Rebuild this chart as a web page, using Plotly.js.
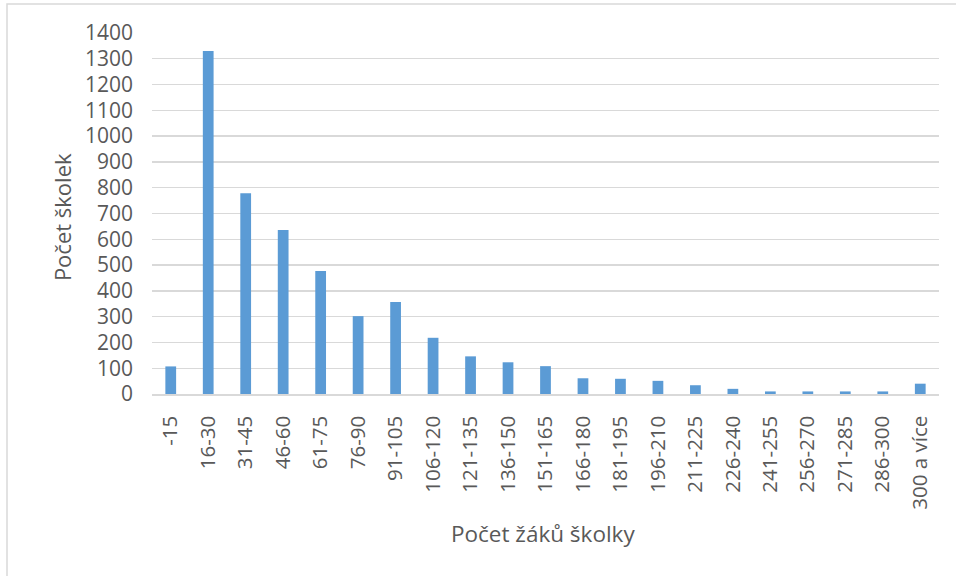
<!DOCTYPE html>
<html>
<head>
<meta charset="utf-8">
<script src="https://cdn.plot.ly/plotly-3.0.1.min.js"></script>
<style>html,body{margin:0;padding:0;background:#fff;}#chart{width:956px;height:576px;}</style>
</head>
<body>
<div id="chart"></div>
<script>
const categories = ["-15","16-30","31-45","46-60","61-75","76-90","91-105","106-120","121-135","136-150","151-165","166-180","181-195","196-210","211-225","226-240","241-255","256-270","271-285","286-300","300 a více"];
const values = [107,1330,779,636,477,302,357,218,146,123,108,61,59,51,34,20,10,10,10,10,40];
const yTicks = [0,100,200,300,400,500,600,700,800,900,1000,1100,1200,1300,1400];
const xTitle = "Počet žáků školky";
const yTitle = "Počet školek";

const fontFam = "Open Sans, Liberation Sans, sans-serif";
const gray = "#595959";

const trace = {
  type: "bar",
  x: categories,
  y: values,
  marker: {color: "#5B9BD5", line: {width: 0}},
  hoverinfo: "x+y"
};

const W = 956, H = 576, L = 152, R = 17, T = 33, B = 182;
const pw = W - L - R, ph = H - T - B;
const px = v => (v - L) / pw;
const py = v => (H - B - v) / ph;

const layout = {
  width: W, height: H,
  margin: {l: L, r: R, t: T, b: B, pad: 0},
  paper_bgcolor: "#fff",
  plot_bgcolor: "#fff",
  showlegend: false,
  bargap: 0.713,
  font: {family: fontFam, color: gray},
  xaxis: {
    type: "category",
    tickangle: -90,
    tickfont: {family: fontFam, size: 20.5, color: gray},
    ticks: "",
    ticklabelstandoff: 12,
    showline: true, linecolor: "#d9d9d9", linewidth: 1.5,
    showgrid: false,
    automargin: false,
    fixedrange: true
  },
  yaxis: {
    range: [0, 1400],
    tickvals: yTicks,
    tickfont: {family: fontFam, size: 21, color: gray},
    ticks: "",
    ticklabelstandoff: 18,
    showgrid: true, gridcolor: "#d9d9d9", gridwidth: 1.3,
    zeroline: false,
    showline: false,
    automargin: false,
    fixedrange: true
  },
  annotations: [
    {text: xTitle, xref: "paper", yref: "paper", x: 0.497, y: 0, xanchor: "center", yanchor: "middle",
     yshift: -139, showarrow: false, font: {family: fontFam, size: 22.5, color: gray}},
    {text: yTitle, xref: "paper", yref: "paper", x: 0, y: 0.49, xanchor: "center", yanchor: "middle",
     xshift: -90, textangle: -90, showarrow: false, font: {family: fontFam, size: 22, color: gray}}
  ],
  shapes: [
    {type: "rect", xref: "paper", yref: "paper", x0: px(7), x1: px(962), y0: py(582), y1: py(4),
     line: {color: "#d9d9d9", width: 1.5}, fillcolor: "rgba(0,0,0,0)", layer: "below"}
  ]
};

Plotly.newPlot("chart", [trace], layout, {displayModeBar: false, staticPlot: true});
</script>
</body>
</html>
